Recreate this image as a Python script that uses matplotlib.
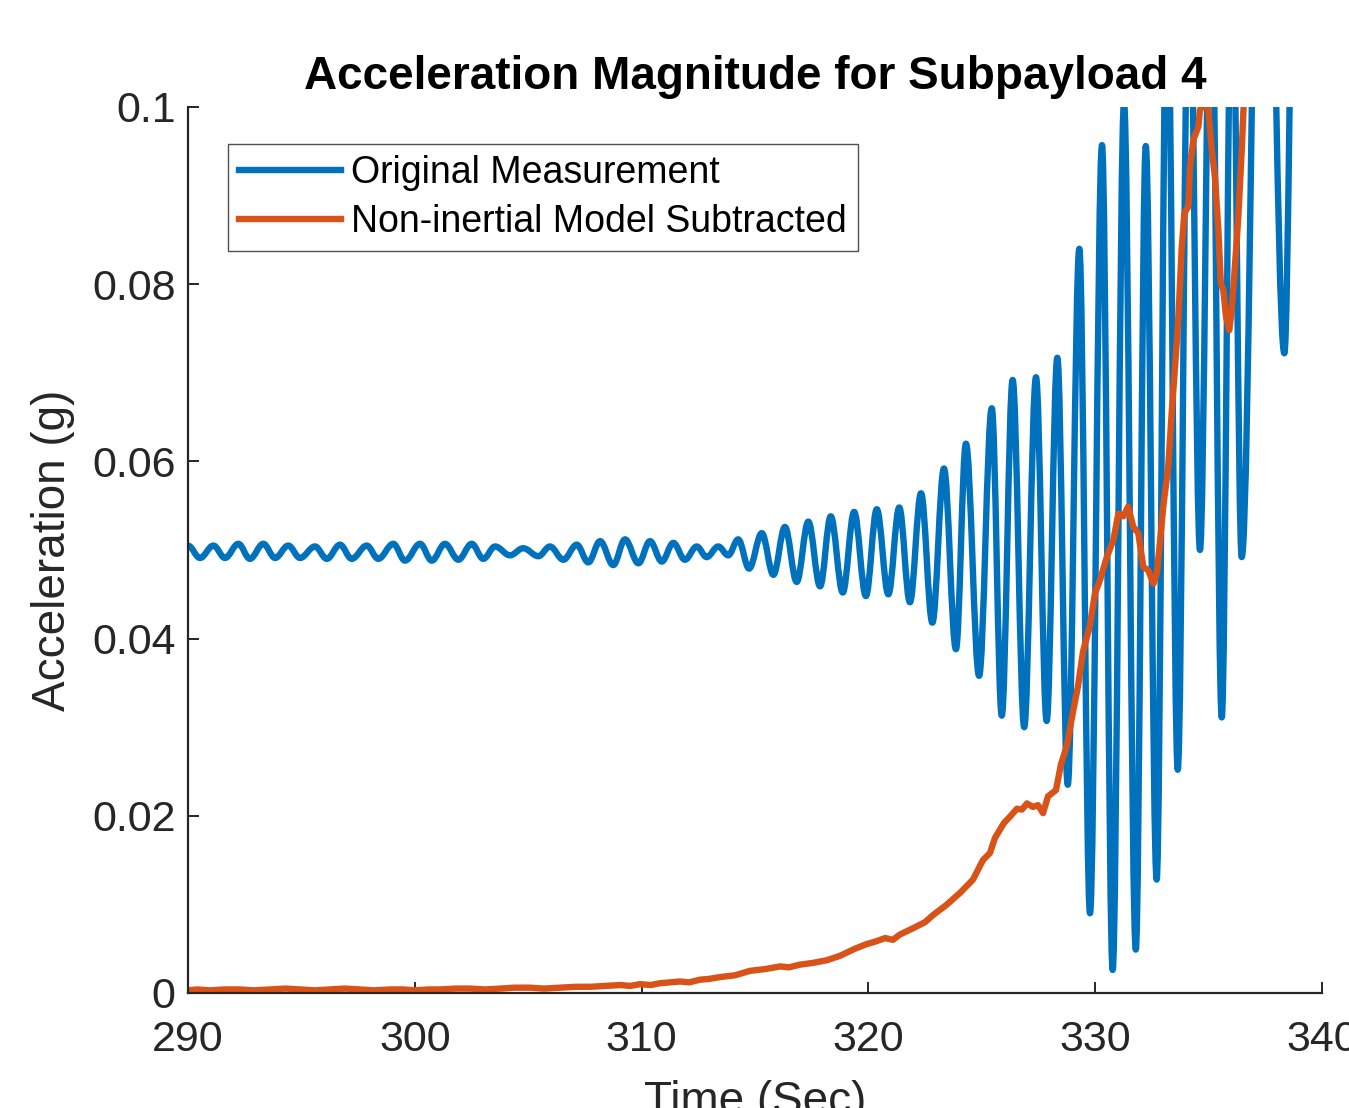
import matplotlib
matplotlib.use("Agg")
import matplotlib.pyplot as plt
from matplotlib.path import Path
from matplotlib.patches import PathPatch
from matplotlib.lines import Line2D

plt.rcParams['font.family'] = ['Liberation Sans', 'DejaVu Sans']

blue_t = [290.00, 290.53, 291.12, 291.63, 292.22, 292.73, 293.32, 293.84, 294.42, 294.94,
          295.60, 296.12, 296.70, 297.22, 297.88, 298.39, 299.05, 299.57, 300.23, 300.75,
          301.33, 301.92, 302.51, 303.02, 303.54, 304.20, 304.78, 305.45, 305.96, 306.55,
          307.14, 307.65, 308.17, 308.75, 309.27, 309.86, 310.37, 310.89, 311.40, 311.91,
          312.43, 312.87, 313.38, 313.82, 314.26, 314.74, 315.30, 315.81, 316.32, 316.84,
          317.35, 317.87, 318.34, 318.87, 319.37, 319.89, 320.37, 320.88, 321.36, 321.83,
          322.32, 322.82, 323.33, 323.86, 324.30, 324.88, 325.44, 325.88, 326.36, 326.87,
          327.39, 327.86, 328.33, 328.79, 329.30, 329.77, 330.30, 330.77, 331.27, 331.79,
          332.23, 332.71, 333.17, 333.64, 334.14, 334.62, 335.11, 335.58, 336.03, 336.46,
          337.40, 338.34, 338.81]
blue_g = [0.0505, 0.0491, 0.0505, 0.0491, 0.0507, 0.0490, 0.0507, 0.0491, 0.0505, 0.0491,
          0.0504, 0.0490, 0.0506, 0.0490, 0.0505, 0.0490, 0.0507, 0.0488, 0.0507, 0.0488,
          0.0507, 0.0489, 0.0507, 0.0490, 0.0504, 0.0494, 0.0502, 0.0493, 0.0504, 0.0489,
          0.0506, 0.0486, 0.0510, 0.0483, 0.0512, 0.0485, 0.0510, 0.0487, 0.0508, 0.0489,
          0.0504, 0.0492, 0.0504, 0.0494, 0.0512, 0.0479, 0.0519, 0.0472, 0.0526, 0.0464,
          0.0532, 0.0459, 0.0538, 0.0452, 0.0543, 0.0448, 0.0546, 0.0450, 0.0548, 0.0441,
          0.0564, 0.0418, 0.0592, 0.0388, 0.0620, 0.0358, 0.0660, 0.0313, 0.0692, 0.0300,
          0.0695, 0.0307, 0.0717, 0.0235, 0.0840, 0.0090, 0.0957, 0.0026, 0.1005, 0.0049,
          0.0956, 0.0128, 0.1180, 0.0252, 0.1200, 0.0500, 0.1200, 0.0311, 0.1200, 0.0492,
          0.1600, 0.0722, 0.1300]

orange_t = [290.00, 290.40, 290.97, 291.60, 292.29, 292.90, 293.62, 294.30, 294.94, 295.60,
            296.26, 296.90, 297.58, 298.20, 298.91, 299.50, 300.01, 300.60, 301.11, 301.80,
            302.43, 303.10, 303.76, 304.40, 305.08, 305.70, 306.40, 307.10, 307.72, 308.40,
            309.05, 309.50, 309.93, 310.40, 310.81, 311.25, 311.69, 312.10, 312.57, 313.00,
            313.46, 314.12, 314.78, 315.44, 316.11, 316.50, 316.98, 317.56, 318.17, 318.75,
            319.41, 319.90, 320.30, 320.74, 321.08, 321.39, 321.96, 322.50, 322.85, 323.42,
            324.04, 324.61, 325.05, 325.36, 325.58, 325.98, 326.24, 326.55, 326.77, 326.99,
            327.26, 327.48, 327.70, 327.92, 328.27, 328.49, 328.76, 328.98, 329.24, 329.46,
            329.77, 329.99, 330.21, 330.51, 330.80, 331.02, 331.24, 331.45, 331.68, 331.90,
            332.12, 332.34, 332.57, 332.72, 332.86, 333.00, 333.22, 333.37, 333.52, 333.67,
            333.81, 333.93, 334.11, 334.18, 334.33, 334.55, 334.62, 334.84, 334.99, 335.14,
            335.28, 335.43, 335.54, 335.65, 335.77, 335.91, 336.02, 336.16, 336.31, 336.46,
            336.56, 336.83]
orange_g = [0.0003, 0.0004, 0.0003, 0.0004, 0.0004, 0.0003, 0.0004, 0.0005, 0.0004, 0.0003,
            0.0004, 0.0005, 0.0004, 0.0003, 0.0004, 0.0004, 0.0003, 0.0004, 0.0004, 0.0005,
            0.0005, 0.0004, 0.0005, 0.0006, 0.0006, 0.0005, 0.0006, 0.0007, 0.0007, 0.0008,
            0.0009, 0.0008, 0.0010, 0.0009, 0.0011, 0.0012, 0.0013, 0.0012, 0.0015, 0.0016,
            0.0018, 0.0020, 0.0025, 0.0027, 0.0030, 0.0029, 0.0032, 0.0034, 0.0037, 0.0042,
            0.0050, 0.0055, 0.0058, 0.0062, 0.0060, 0.0066, 0.0073, 0.0080, 0.0088, 0.0099,
            0.0113, 0.0128, 0.0150, 0.0158, 0.0175, 0.0192, 0.0199, 0.0208, 0.0207, 0.0214,
            0.0210, 0.0212, 0.0203, 0.0222, 0.0229, 0.0258, 0.0280, 0.0312, 0.0346, 0.0385,
            0.0415, 0.0451, 0.0466, 0.0492, 0.0511, 0.0541, 0.0538, 0.0549, 0.0526, 0.0519,
            0.0481, 0.0477, 0.0462, 0.0474, 0.0510, 0.0549, 0.0594, 0.0654, 0.0707, 0.0763,
            0.0839, 0.0880, 0.0888, 0.0933, 0.0963, 0.0978, 0.0997, 0.1004, 0.0997, 0.0951,
            0.0921, 0.0861, 0.0801, 0.0793, 0.0763, 0.0748, 0.0771, 0.0820, 0.0876, 0.0951,
            0.1010, 0.1200]

series_labels = ['Original Measurement', 'Non-inertial Model Subtracted']
x_ticks = [290, 300, 310, 320, 330, 340]
y_ticks = [0, 0.02, 0.04, 0.06, 0.08, 0.1]
y_tick_labels = ['0', '0.02', '0.04', '0.06', '0.08', '0.1']

BLUE = '#0072BD'
ORANGE = '#D95319'
AXC = '#262626'
LW = 4.6

# ---- figure ----
W, H = 1349, 1108
fig = plt.figure(figsize=(W / 100, H / 100), dpi=100)
ax = fig.add_axes([188 / W, 1 - 993 / H, (1322 - 188) / W, (993 - 107) / H])

# blue: smooth curve through the read extrema (horizontal tangent at each extremum)
k = 0.36
verts = [(blue_t[0], blue_g[0])]
codes = [Path.MOVETO]
for i in range(len(blue_t) - 1):
    t0, v0, t1, v1 = blue_t[i], blue_g[i], blue_t[i + 1], blue_g[i + 1]
    dt = t1 - t0
    verts += [(t0 + k * dt, v0), (t1 - k * dt, v1), (t1, v1)]
    codes += [Path.CURVE4] * 3
ax.add_patch(PathPatch(Path(verts, codes), fill=False, edgecolor=BLUE, lw=LW,
                       joinstyle='round', capstyle='round', transform=ax.transData))

ax.plot(orange_t, orange_g, color=ORANGE, lw=LW,
        solid_joinstyle='round', solid_capstyle='round')

ax.set_xlim(290, 340)
ax.set_ylim(0, 0.1)
ax.set_xticks(x_ticks)
ax.set_yticks(y_ticks)
ax.set_yticklabels(y_tick_labels)

for s in ['top', 'right']:
    ax.spines[s].set_visible(False)
for s in ['left', 'bottom']:
    ax.spines[s].set_linewidth(1.6)
    ax.spines[s].set_color(AXC)

ax.tick_params(direction='in', length=8, width=1.4, colors=AXC, labelsize=31)
ax.tick_params(axis='x', pad=19.5)
ax.tick_params(axis='y', pad=9)

ax.set_title('Acceleration Magnitude for Subpayload 4', fontsize=33, fontweight='bold',
             color='black', pad=13)
ax.set_xlabel('Time (Sec)', fontsize=33, color=AXC, labelpad=14)
ax.set_ylabel('Acceleration (g)', fontsize=33, color=AXC, labelpad=12)

handles = [Line2D([], [], color=BLUE, lw=LW), Line2D([], [], color=ORANGE, lw=LW)]
leg = ax.legend(handles, series_labels, loc='upper left',
                bbox_to_anchor=(0.0353, 0.9616 - 3 / 886),
                borderaxespad=0, fontsize=27, frameon=True, fancybox=False,
                handlelength=2.7, handletextpad=0.28, labelspacing=0.34, borderpad=0.3)
leg.get_frame().set_edgecolor(AXC)
leg.get_frame().set_linewidth(1.0)
for t in leg.get_texts():
    t.set_color('black')

fig.savefig('out.png', dpi=100)
